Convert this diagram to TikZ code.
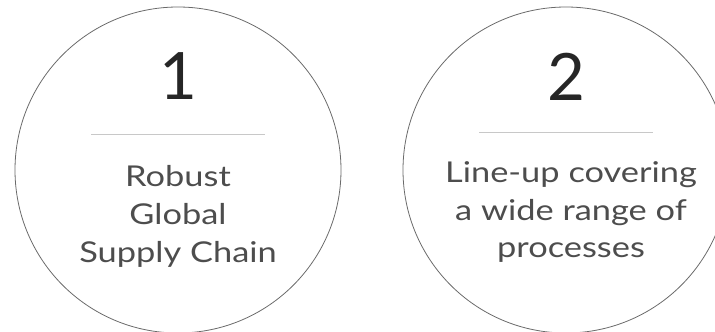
\documentclass[tikz,border=0pt]{standalone}
\usepackage{fontspec}
\setmainfont{Lato}
\newfontfamily\widelato[FakeStretch=1.2]{Lato}
\definecolor{ringgray}{HTML}{6A6A6A}
\definecolor{rulegray}{HTML}{C8C8C8}
\definecolor{textgray}{HTML}{4D4D4D}
\definecolor{numblack}{HTML}{262626}

\begin{document}
\begin{tikzpicture}
  [ x=0.75pt, y=-0.75pt,
    ring/.style={circle, draw=ringgray, line width=0.6pt, minimum size=244.5pt, inner sep=0pt},
    num/.style={text=numblack, inner sep=0pt, anchor=base, font=\fontsize{49}{49}\selectfont},
    caption/.style={text=textgray, inner sep=0pt, align=center, font=\widelato\fontsize{21.5}{28.5}\selectfont},
    divider/.style={-, draw=rulegray, line width=0.75pt}
  ]
  \useasboundingbox (0,0) rectangle (715,332);
  \clip (0,0) rectangle (715,332);

  \node[ring] (ringone) at (178,170) {};
  \node[ring] (ringtwo) at (566,170) {};

  \node[num] (numone) at (178,99) {1};
  \node[num] (numtwo) at (566,100) {2};

  \draw [divider] (91,134) -- (265,134);
  \draw [divider] (479,132) -- (653,132);

  \node[caption] (capone) at (178,216) {Robust\\Global\\Supply Chain};
  \node[caption] (captwo) at (571,212) {Line-up covering\\a wide range of\\processes};
\end{tikzpicture}
\end{document}
